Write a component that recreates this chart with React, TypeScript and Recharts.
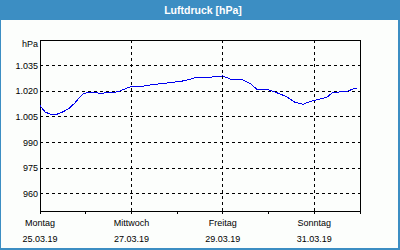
import React from 'react';
import { LineChart, Line, XAxis, YAxis, CartesianGrid, ReferenceLine, ReferenceArea } from 'recharts';

// hours since Monday 25.03.19 00:00
const hours = [0, 2.6, 5.2, 8.9, 12.1, 15.7, 18.4, 21, 23, 26.2, 31.5, 38.3, 42, 45.6, 48.3, 52.5, 60.3, 68.2, 76, 82.4, 89.2, 96, 99.7, 106.5, 110.2, 113.8, 119.1, 124.3, 129.6, 133.8, 138, 141.6, 146.9, 150.6, 153.7, 161, 164.2, 166.3];
const pressure = [1011.6, 1008, 1006.7, 1006.6, 1008, 1010.4, 1013.3, 1016.8, 1018.8, 1019.4, 1018.9, 1019.2, 1020.2, 1021.8, 1023.1, 1022.7, 1024.1, 1025, 1026.2, 1028.2, 1028.2, 1029, 1027.2, 1026.6, 1024.7, 1021.3, 1021.2, 1019.2, 1016.8, 1013.6, 1012.4, 1013.9, 1015.5, 1016.5, 1019.4, 1019.8, 1021.3, 1021.8];

const xTicks = [0, 24, 48, 72, 96, 120, 144, 168];
const dayTicks = [0, 48, 96, 144];
const dayNames = ['Montag', 'Mittwoch', 'Freitag', 'Sonntag'];
const dayDates = ['25.03.19', '27.03.19', '29.03.19', '31.03.19'];
const gridDays = [48, 96, 144];
const yTicks = [960, 975, 990, 1005, 1020, 1035, 1050];
const yTickLabels = ['960', '975', '990', '1.005', '1.020', '1.035', 'hPa'];
const normalTicks = [1005];
const normalLabel = 'Normal';
const title = 'Luftdruck [hPa]';

const data = hours.map((h, i) => ({ h, p: pressure[i] }));

const BLUE = '#3c8ec3';
const FONT = '"Liberation Sans", Arial, sans-serif';

const YTick = (props: any) => {
  const { x, y, payload } = props;
  const i = yTicks.indexOf(payload.value);
  const label = i >= 0 ? yTickLabels[i] : '';
  const off = payload.value === 1050 ? 4 : 0;
  return (
    <text x={x} y={y + off} dy="0.35em" textAnchor="end" fontFamily={FONT} fontSize={9} fill="#000">
      {label}
    </text>
  );
};

const RTick = (props: any) => {
  const { x, y } = props;
  return (
    <text x={x} y={y} dy="0.35em" textAnchor="start" fontFamily={FONT} fontSize={9} fill="#000">
      {normalLabel}
    </text>
  );
};

const XTick = (props: any) => {
  const { x, y, payload } = props;
  const i = dayTicks.indexOf(payload.value);
  if (i < 0) return <g />;
  return (
    <text x={x} y={y} textAnchor="middle" fontFamily={FONT} fontSize={9} fill="#000">
      <tspan x={x} dy={12}>{dayNames[i]}</tspan>
      <tspan x={x} dy={16}>{dayDates[i]}</tspan>
    </text>
  );
};

export default function App() {
  return (
    <div style={{ position: 'fixed', left: 0, top: 0, width: 400, height: 250 }}>
      <div
        style={{
          position: 'absolute', left: 0, top: 0, width: 400, height: 250, boxSizing: 'border-box',
          background: '#fcfefc', borderLeft: `1px solid ${BLUE}`, borderRight: `2px solid ${BLUE}`,
          borderBottom: `2px solid ${BLUE}`,
        }}
      />
      <div
        style={{
          position: 'absolute', left: 0, top: 0, width: 400, height: 20, background: BLUE,
          color: '#fff', fontFamily: FONT, fontWeight: 'bold', fontSize: 10.5, lineHeight: '20px',
          textAlign: 'center', paddingLeft: 6, boxSizing: 'border-box',
        }}
      >
        {title}
      </div>
      <div style={{ position: 'absolute', left: 0, top: 0 }}>
        <LineChart width={400} height={250} data={data} margin={{ top: 40, right: 0, bottom: 9, left: 0 }}
          style={{ shapeRendering: 'crispEdges' }}>
          <CartesianGrid vertical={false} stroke="#000" strokeDasharray="3 3" />
          {gridDays.map((d) => (
            <ReferenceLine key={d} x={d} stroke="#000" strokeDasharray="3 3" />
          ))}
          <XAxis dataKey="h" type="number" domain={[0, 168]} ticks={xTicks} interval={0}
            height={30} axisLine={false} tickLine={{ stroke: '#000' }} tickSize={3} tickMargin={0}
            tick={<XTick />} />
          <YAxis type="number" domain={[950, 1050]} ticks={yTicks} interval={0} width={40}
            axisLine={false} tickLine={false} tickSize={2} tickMargin={0} tick={<YTick />} />
          <YAxis yAxisId="r" orientation="right" type="number" domain={[950, 1050]} ticks={normalTicks}
            interval={0} width={40} axisLine={false} tickLine={{ stroke: '#000' }} tickSize={4} tickMargin={1}
            tick={<RTick />} />
          <ReferenceArea x1={0} x2={168} y1={950} y2={1050} fill="none" stroke="#000" strokeWidth={1} />
          <Line dataKey="p" type="linear" stroke="#0000ee" strokeWidth={1} dot={false} isAnimationActive={false} />
        </LineChart>
      </div>
    </div>
  );
}
